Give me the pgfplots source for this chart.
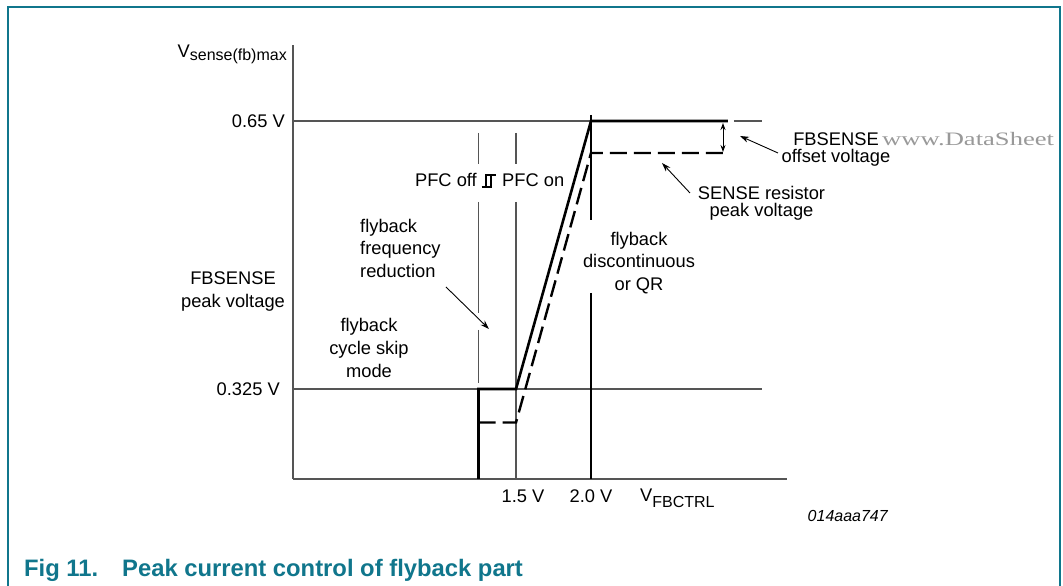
\documentclass[border=0pt]{standalone}
\usepackage{fontspec}
\setmainfont{Liberation Sans}
\newfontfamily\serifwm{Liberation Serif}
\usepackage{graphicx}
\usepackage{pgfplots}
\pgfplotsset{compat=1.18}
\usetikzlibrary{arrows.meta}
\definecolor{frame}{RGB}{16,118,140}
\definecolor{gridc}{RGB}{85,85,85}
\newcommand{\bodyfont}{\fontsize{18.3bp}{22.7bp}\selectfont}
\newcommand{\tightfont}{\fontsize{18.3bp}{17bp}\selectfont}
\newcommand{\subfont}{\fontsize{16bp}{16bp}\selectfont}

\begin{document}
\begin{tikzpicture}
\useasboundingbox (0,0) rectangle (1063bp,586bp);
\clip (0,0) rectangle (1063bp,586bp);
\begin{axis}[
  at={(293bp,107bp)}, anchor=south west,
  scale only axis, width=494bp, height=434bp,
  xmin=0.01333, xmax=3.30667, ymin=0, ymax=434,
  axis lines*=left,
  axis line style={draw=gridc, line width=1.6bp},
  major tick length=0pt,
  xtick={2.0}, xticklabels={2.0 V},
  extra x ticks={1.5}, extra x tick labels={1.5 V},
  extra x tick style={grid=none, xticklabel style={xshift=7bp}},
  ytick={358}, yticklabels={0.65 V},
  extra y ticks={90}, extra y tick labels={0.325 V},
  extra y tick style={grid=none, yticklabel style={xshift=-5bp}},
  xticklabel style={anchor=base, inner sep=0pt, yshift=-24bp, font=\bodyfont},
  yticklabel style={anchor=east, inner sep=0pt, xshift=-8bp, font=\bodyfont},
  clip=false,
]
% reference lines
\addplot[gridc, line width=1.1bp] coordinates {(0.01333,358) (2.0,358)};
\addplot[gridc, line width=1.1bp] coordinates {(2.953,358) (3.14,358)};
\addplot[gridc, line width=1.1bp] coordinates {(0.01333,90) (3.14,90)};
\addplot[gridc, line width=1.1bp] coordinates {(1.25,346) (1.25,315)};
\addplot[gridc, line width=1.1bp] coordinates {(1.25,277) (1.25,166)};
\addplot[gridc, line width=1.1bp] coordinates {(1.25,149) (1.25,96)};
\addplot[gridc, line width=1.1bp] coordinates {(1.5,346) (1.5,315)};
\addplot[gridc, line width=1.1bp] coordinates {(1.5,277) (1.5,0)};
\addplot[black, line width=1.1bp] coordinates {(2.0,364) (2.0,259)};
\addplot[black, line width=1.1bp] coordinates {(2.0,186) (2.0,0)};
% FBSENSE peak voltage (solid) and SENSE resistor peak voltage (dashed)
\addplot[black, line width=2.6bp, line join=miter] coordinates {(1.25,0) (1.25,90) (1.5,90) (2.0,358) (2.913,358)};
\addplot[black, line width=2.4bp, dash pattern=on 17bp off 7bp] coordinates {(1.25,56.5) (1.5,56.5) (2.0,326) (2.913,326)};
\end{axis}

\begin{scope}[x=1bp,y=-1bp,yshift=586bp]
% frame
\draw[frame, line width=1.8bp] (8,640) -- (8,7) -- (1060,7) -- (1060,640);
% axis title labels
\node[anchor=base east, inner sep=0, font=\bodyfont] at (287,58) {V\raisebox{-3bp}{\subfont sense(fb)max}};
\node[anchor=base west, inner sep=0, font=\bodyfont] at (640,502) {V\raisebox{-6bp}{\subfont FBCTRL}};
% annotations
\node[align=center, anchor=north, inner sep=0, font=\bodyfont] at (233,272) {FBSENSE\\peak voltage};
\node[align=left, anchor=north west, inner sep=0, font=\bodyfont] at (360,218.7) {flyback\\frequency\\reduction};
\node[align=center, anchor=north, inner sep=0, font=\bodyfont] at (369,318.4) {flyback\\cycle skip\\mode};
\node[align=center, anchor=north, inner sep=0, font=\bodyfont] at (639,231.7) {flyback\\discontinuous\\or QR};
\node[align=center, anchor=north, inner sep=0, font=\tightfont] at (836,132.9) {FBSENSE\\offset voltage};
\node[align=center, anchor=north, inner sep=0, font=\tightfont] at (761.5,185.9) {SENSE resistor\\peak voltage};
\node[anchor=base east, inner sep=0, font=\bodyfont] at (477,187) {PFC off};
\node[anchor=base west, inner sep=0, font=\bodyfont] at (502,187) {PFC on};
% hysteresis symbol
\draw[black, line width=1.1bp] (481.5,187) -- (491,187) -- (491,175) -- (486,175) -- (486,187);
\draw[black, line width=1.1bp] (486,175) -- (495.5,175);
% arrows
\draw[black, line width=0.9bp, -{Stealth[length=9bp,width=6bp]}] (446,287) -- (489,329);
\draw[black, line width=0.9bp, -{Stealth[length=9bp,width=6bp]}] (778,153) -- (740,136);
\draw[black, line width=0.9bp, -{Stealth[length=9bp,width=6bp]}] (690,193) -- (662,163);
\draw[black, line width=0.9bp, {Stealth[length=7bp,width=5bp]}-{Stealth[length=7bp,width=5bp]}] (723,123) -- (723,152);
% watermark
\node[anchor=base west, inner sep=0, text=black!40, font=\serifwm\fontsize{19bp}{19bp}\selectfont] at (882,146) {\scalebox{1.4}[1]{www.DataSheet}};
% figure id
\node[anchor=base east, inner sep=0, font=\subfont\itshape] at (888,522) {014aaa747};
% caption
\node[anchor=base west, inner sep=0, text=frame, font=\fontsize{23.8bp}{28bp}\selectfont\bfseries] at (24,577) {Fig 11.};
\node[anchor=base west, inner sep=0, text=frame, font=\fontsize{23.8bp}{28bp}\selectfont\bfseries] at (122,577) {Peak current control of flyback part};
\end{scope}
\end{tikzpicture}
\end{document}
